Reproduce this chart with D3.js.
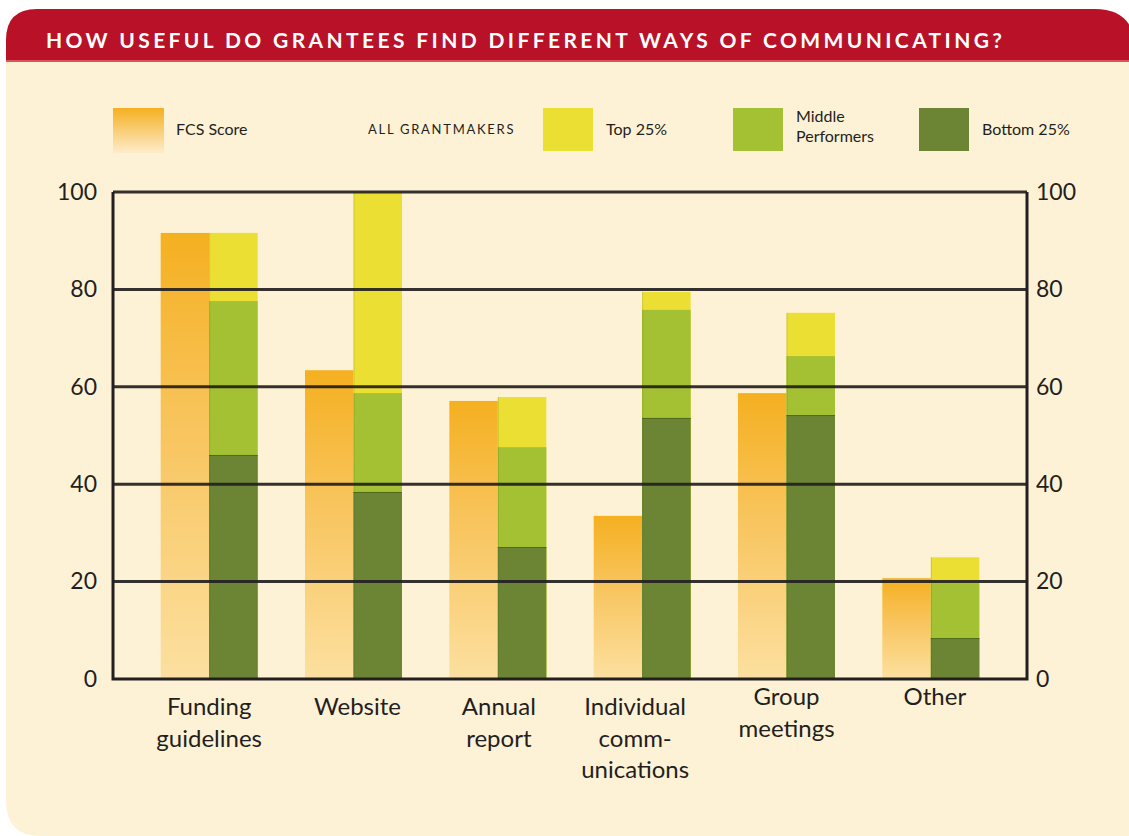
<!DOCTYPE html>
<html>
<head>
<meta charset="utf-8">
<script src="https://cdn.jsdelivr.net/npm/d3@7"></script>
<style>
  body { margin: 0; background: #fff; }
  svg text { font-family: Lato, "Open Sans", sans-serif; fill: #231f20; }
</style>
</head>
<body>
<div class="chart"></div>
<script>

// data
var categories = ['Funding guidelines', 'Website', 'Annual report', 'Individual communications', 'Group meetings', 'Other'];
var labelLines = [['Funding', 'guidelines'], ['Website'], ['Annual', 'report'], ['Individual', 'comm-', 'unications'], ['Group', 'meetings'], ['Other']];
var fcsScore = [91.6, 63.4, 57.1, 33.5, 58.7, 20.7];
var top25 = [91.6, 100, 57.9, 79.5, 75.2, 25.0];
var middle = [77.6, 58.7, 47.6, 75.8, 66.3, 19.7];
var bottom25 = [46.0, 38.4, 27.1, 53.6, 54.2, 8.4];
var yTicks = [0, 20, 40, 60, 80, 100];

var width = 1129,
  height = 836;

var svg = d3.select('.chart')
  .append('svg')
  .attr('width', width)
  .attr('height', height);

var defs = svg.append('defs');
var grad = defs.append('linearGradient') //fcs bars fade towards the bottom
  .attr('id', 'fcsGrad')
  .attr('x1', 0).attr('y1', 0).attr('x2', 0).attr('y2', 1);
grad.append('stop').attr('offset', '0%').attr('stop-color', '#f5b021');
grad.append('stop').attr('offset', '45%').attr('stop-color', '#f8c55f');
grad.append('stop').attr('offset', '100%').attr('stop-color', '#fce0a0');

var legGrad = defs.append('linearGradient')
  .attr('id', 'fcsLegGrad')
  .attr('x1', 0).attr('y1', 0).attr('x2', 0).attr('y2', 1);
legGrad.append('stop').attr('offset', '0%').attr('stop-color', '#f5b021');
legGrad.append('stop').attr('offset', '100%').attr('stop-color', '#fdeccb');

//PANEL
svg.append('path')
  .attr('d', 'M6,40 Q6,9 37,9 L1095,9 Q1129,9 1135,40 L1135,836 L40,836 Q6,836 6,800 Z')
  .attr('fill', '#fef2d6');
svg.append('path')
  .attr('d', 'M6,61 L6,40 Q6,9 37,9 L1095,9 Q1129,9 1135,40 L1135,61 Z')
  .attr('fill', '#b91127');
svg.append('rect')
  .attr('x', 6).attr('y', 60).attr('width', 1129).attr('height', 2)
  .attr('fill', '#d9555a');

svg.append('text')
  .attr('x', 46)
  .attr('y', 48)
  .attr('textLength', 956)
  .attr('lengthAdjust', 'spacing')
  .style('font-size', '21px')
  .style('font-weight', 'bold')
  .style('fill', '#fff')
  .text('HOW USEFUL DO GRANTEES FIND DIFFERENT WAYS OF COMMUNICATING?');

//SCALES
var xScale = d3.scaleBand()
  .domain(categories)
  .range([137, 1003])
  .padding(0);

var yScale = d3.scaleLinear()
  .domain([0, 100])
  .range([679, 192]);

var barW = xScale.bandwidth() * 0.336;

//BARS
var groups = svg.selectAll('.grp')
  .data(categories)
  .enter()
  .append('g')
  .attr('class', 'grp')
  .attr('transform', function(d) { return 'translate(' + (xScale(d) + xScale.bandwidth() / 2) + ',0)'; });

groups.append('rect') //fcs score
  .attr('x', -barW)
  .attr('y', function(d, i) { return yScale(fcsScore[i]); })
  .attr('width', barW)
  .attr('height', function(d, i) { return yScale(0) - yScale(fcsScore[i]); })
  .attr('fill', 'url(#fcsGrad)');

var stacks = [
  { vals: top25, color: '#ecdf33' },
  { vals: middle, color: '#a3c132' },
  { vals: bottom25, color: '#6c8535' }
];

stacks.forEach(function(s) {
  groups.append('rect')
    .attr('x', 0)
    .attr('y', function(d, i) { return yScale(s.vals[i]); })
    .attr('width', barW)
    .attr('height', function(d, i) { return yScale(0) - yScale(s.vals[i]); })
    .attr('fill', s.color);
});

// thin darker seams on the segment tops
groups.append('line')
  .attr('x1', 0).attr('x2', barW)
  .attr('y1', function(d, i) { return yScale(bottom25[i]) + 0.5; })
  .attr('y2', function(d, i) { return yScale(bottom25[i]) + 0.5; })
  .attr('stroke', '#4f6a1c').attr('stroke-width', 1);
groups.append('line')
  .attr('x1', 0.5).attr('x2', 0.5)
  .attr('y1', function(d, i) { return yScale(Math.max(fcsScore[i], top25[i])); })
  .attr('y2', yScale(0))
  .attr('stroke', '#000').attr('stroke-opacity', 0.12).attr('stroke-width', 1);

//GRID + AXES (drawn over the bars)
svg.selectAll('.grid')
  .data(yTicks.filter(function(t) { return t > 0; }))
  .enter()
  .append('line')
  .attr('class', 'grid')
  .attr('x1', 113).attr('x2', 1027)
  .attr('y1', function(d) { return yScale(d); })
  .attr('y2', function(d) { return yScale(d); })
  .attr('stroke', '#231f20')
  .attr('stroke-opacity', 0.92)
  .attr('stroke-width', 3);

svg.append('path')
  .attr('d', 'M113,' + yScale(100) + ' V' + yScale(0) + ' H1027 V' + yScale(100))
  .attr('fill', 'none')
  .attr('stroke', '#231f20')
  .attr('stroke-width', 3);

var yAxisL = d3.axisLeft(yScale).tickValues(yTicks).tickSize(0).tickPadding(16);
var yAxisR = d3.axisRight(yScale).tickValues(yTicks).tickSize(0).tickPadding(9);

var yAxisLG = svg.append('g')
  .attr('transform', 'translate(113,0)')
  .call(yAxisL);
var yAxisRG = svg.append('g')
  .attr('transform', 'translate(1027,0)')
  .call(yAxisR);

[yAxisLG, yAxisRG].forEach(function(g) {
  g.select('.domain').remove();
  g.selectAll('text')
    .style('font-size', '23px')
    .style('font-family', 'Lato, sans-serif')
    .attr('fill', '#231f20');
});

//CATEGORY LABELS
var labelDrop = [0, 0, 0, 0, -10, -10]; //group + other sit a little higher
var labelShift = [0, 4, 1, -7, 0, 4];
groups.append('text')
  .attr('text-anchor', 'middle')
  .style('font-size', '24px')
  .each(function(d, i) {
    var t = d3.select(this);
    labelLines[i].forEach(function(line, j) {
      t.append('tspan')
        .attr('x', labelShift[i])
        .attr('y', 715 + labelDrop[i] + j * 31.5)
        .text(line);
    });
  });

//LEGEND
var legend = svg.append('g').attr('class', 'legend');

legend.append('rect')
  .attr('x', 113).attr('y', 108).attr('width', 51).attr('height', 45)
  .attr('fill', 'url(#fcsLegGrad)');
legend.append('text')
  .attr('x', 176).attr('y', 135)
  .style('font-size', '16px')
  .text('FCS Score');

legend.append('text')
  .attr('x', 368).attr('y', 134)
  .attr('textLength', 147)
  .style('font-size', '13px')
  .style('letter-spacing', '1.5px')
  .text('ALL GRANTMAKERS');

var legItems = [
  { x: 543, color: '#ecdf33', lines: ['Top 25%'] },
  { x: 733, color: '#a3c132', lines: ['Middle', 'Performers'] },
  { x: 919, color: '#6c8535', lines: ['Bottom 25%'] }
];

legItems.forEach(function(it) {
  legend.append('rect')
    .attr('x', it.x).attr('y', 108).attr('width', 50).attr('height', 43)
    .attr('fill', it.color);
  var t = legend.append('text')
    .style('font-size', '16px');
  it.lines.forEach(function(line, j) {
    t.append('tspan')
      .attr('x', it.x + 63)
      .attr('y', it.lines.length > 1 ? 122 + j * 20 : 135)
      .text(line);
  });
});

</script>
</body>
</html>
